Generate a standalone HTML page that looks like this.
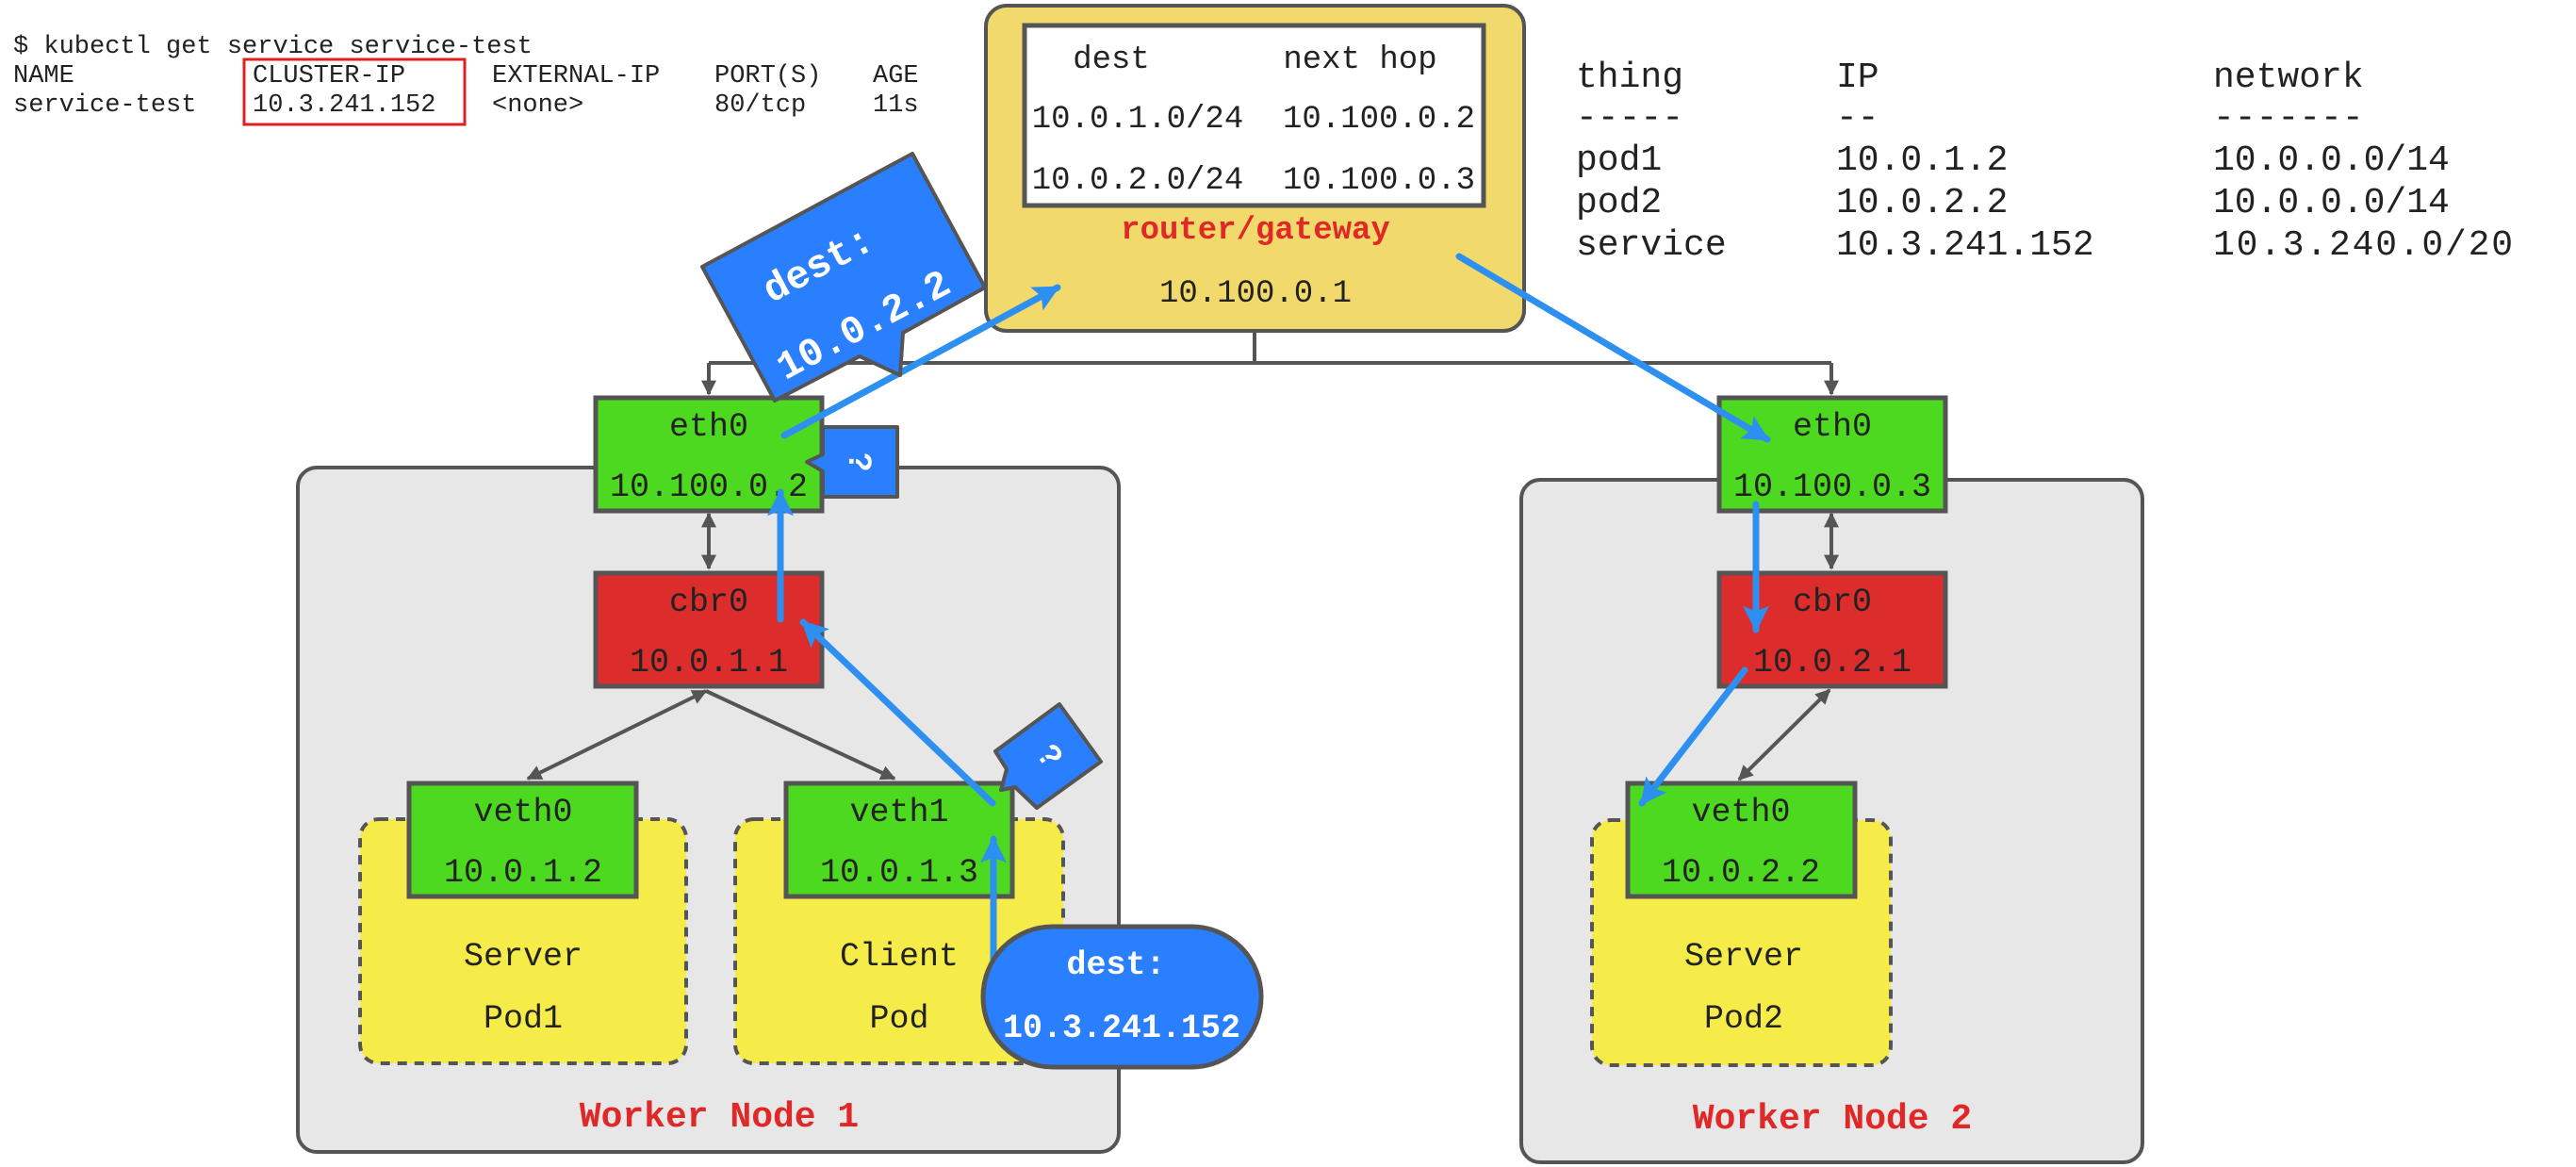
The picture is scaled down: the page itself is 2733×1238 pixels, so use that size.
<!DOCTYPE html>
<html><head><meta charset="utf-8"><style>
html,body{margin:0;padding:0;background:#fff;}
svg{display:block;}
.m{font-family:"Liberation Mono","Noto Sans CJK SC",monospace;}
</style></head><body>
<svg width="2733" height="1238" viewBox="0 0 2733 1238" xmlns="http://www.w3.org/2000/svg">
<defs>
<marker id="gh" viewBox="0 0 10 10" refX="9" refY="5" markerWidth="16" markerHeight="16" orient="auto-start-reverse" markerUnits="userSpaceOnUse"><path d="M0,0 L10,5 L0,10 z" fill="#555"/></marker>
<marker id="bh" viewBox="0 0 10 10" refX="9" refY="5" markerWidth="28" markerHeight="28" orient="auto" markerUnits="userSpaceOnUse"><path d="M0,0 L10,5 L0,10 L2,5 z" fill="#2d8ff0"/></marker>
</defs>

<!-- kubectl text -->
<g class="m" font-size="27" fill="#222">
<text x="14" y="56">$ kubectl get service service-test</text>
<text x="14" y="87">NAME</text><text x="268" y="87">CLUSTER-IP</text><text x="522" y="87">EXTERNAL-IP</text><text x="758" y="87">PORT(S)</text><text x="926" y="87">AGE</text>
<text x="14" y="118">service-test</text><text x="268" y="118">10.3.241.152</text><text x="522" y="118">&lt;none&gt;</text><text x="758" y="118">80/tcp</text><text x="926" y="118">11s</text>
</g>
<rect x="259" y="63" width="234" height="69" fill="none" stroke="#e02020" stroke-width="3"/>

<!-- right table -->
<g class="m" font-size="38" fill="#222">
<text x="1672" y="92">thing</text><text x="1948" y="92">IP</text><text x="2348" y="92">network</text>
<text x="1672" y="135">-----</text><text x="1948" y="135">--</text><text x="2348" y="135">-------</text>
<text x="1672" y="180">pod1</text><text x="1948" y="180">10.0.1.2</text><text x="2348" y="180">10.0.0.0/14</text>
<text x="1672" y="225">pod2</text><text x="1948" y="225">10.0.2.2</text><text x="2348" y="225">10.0.0.0/14</text>
<text x="1672" y="270">service</text><text x="1948" y="270">10.3.241.152</text><text x="2348" y="270" textLength="318" lengthAdjust="spacing">10.3.240.0/20</text>
</g>

<!-- worker nodes -->
<rect x="316" y="496" width="871" height="726" rx="20" fill="#e7e7e7" stroke="#555" stroke-width="4"/>
<rect x="1614" y="509" width="659" height="724" rx="20" fill="#e7e7e7" stroke="#555" stroke-width="4"/>

<!-- router -->
<rect x="1046" y="6" width="571" height="345" rx="22" fill="#f2d96b" stroke="#555" stroke-width="4"/>
<rect x="1087" y="27" width="487" height="191" fill="#fff" stroke="#555" stroke-width="5"/>
<g class="m" font-size="34" fill="#222" text-anchor="middle">
<text x="1179" y="72">dest</text><text x="1443" y="72">next hop</text>
<text x="1207" y="135">10.0.1.0/24</text><text x="1463" y="135">10.100.0.2</text>
<text x="1207" y="200">10.0.2.0/24</text><text x="1463" y="200">10.100.0.3</text>
<text x="1332" y="253" fill="#e02828" font-weight="bold">router/gateway</text>
<text x="1332" y="320">10.100.0.1</text>
</g>

<!-- gray connectors top -->
<path d="M1331,351 V385 M752,385 H1943" stroke="#555" stroke-width="4" fill="none"/>
<path d="M752,385 V418" stroke="#555" stroke-width="4" fill="none" marker-end="url(#gh)"/>
<path d="M1943,385 V418" stroke="#555" stroke-width="4" fill="none" marker-end="url(#gh)"/>

<!-- pods -->
<rect x="382" y="869" width="346" height="259" rx="20" fill="#f5ec4a" stroke="#555" stroke-width="4" stroke-dasharray="10,8"/>
<rect x="780" y="869" width="348" height="259" rx="20" fill="#f5ec4a" stroke="#555" stroke-width="4" stroke-dasharray="10,8"/>
<rect x="1689" y="870" width="317" height="260" rx="20" fill="#f5ec4a" stroke="#555" stroke-width="4" stroke-dasharray="10,8"/>

<!-- gray arrows inside nodes -->
<g stroke="#555" stroke-width="4" fill="none">
<path d="M752,545 V603" marker-end="url(#gh)" marker-start="url(#gh)"/>
<path d="M1943,545 V603" marker-end="url(#gh)" marker-start="url(#gh)"/>
<path d="M749,733 L560,826" marker-end="url(#gh)" marker-start="url(#gh)"/>
<path d="M749,733 L949,826" marker-end="url(#gh)"/>
<path d="M1941,732 L1845,827" marker-end="url(#gh)" marker-start="url(#gh)"/>
</g>

<!-- boxes -->
<g stroke="#555" stroke-width="5">
<rect x="632" y="422" width="240" height="120" fill="#4cd920"/>
<rect x="632" y="608" width="240" height="120" fill="#dd2c2c"/>
<rect x="434" y="831" width="241" height="120" fill="#4cd920"/>
<rect x="834" y="831" width="240" height="120" fill="#4cd920"/>
<rect x="1824" y="422" width="240" height="120" fill="#4cd920"/>
<rect x="1824" y="608" width="240" height="120" fill="#dd2c2c"/>
<rect x="1727" y="831" width="241" height="120" fill="#4cd920"/>
</g>
<g class="m" font-size="35" fill="#222" text-anchor="middle">
<text x="752" y="462">eth0</text><text x="752" y="526">10.100.0.2</text>
<text x="752" y="648">cbr0</text><text x="752" y="712">10.0.1.1</text>
<text x="555" y="871">veth0</text><text x="555" y="935">10.0.1.2</text>
<text x="954" y="871">veth1</text><text x="954" y="935">10.0.1.3</text>
<text x="1944" y="462">eth0</text><text x="1944" y="526">10.100.0.3</text>
<text x="1944" y="648">cbr0</text><text x="1944" y="712">10.0.2.1</text>
<text x="1847" y="871">veth0</text><text x="1847" y="935">10.0.2.2</text>
<text x="555" y="1024">Server</text><text x="555" y="1090">Pod1</text>
<text x="954" y="1024">Client</text><text x="954" y="1090">Pod</text>
<text x="1850" y="1024">Server</text><text x="1850" y="1090">Pod2</text>
</g>
<g class="m" font-size="38" fill="#e02828" text-anchor="middle" font-weight="bold">
<text x="763" y="1195">Worker Node 1</text>
<text x="1944" y="1197">Worker Node 2</text>
</g>

<!-- blue arrows -->
<g stroke="#2d8ff0" stroke-width="7" fill="none" stroke-linecap="round">
<path d="M1054,1060 V890" marker-end="url(#bh)"/>
<path d="M1053,852 L852,660" marker-end="url(#bh)"/>
<path d="M828,657 V522" marker-end="url(#bh)"/>
<path d="M832,462 L1122,305" marker-end="url(#bh)"/>
<path d="M1548,272 L1875,466" marker-end="url(#bh)"/>
<path d="M1863,535 V668" marker-end="url(#bh)"/>
<path d="M1851,711 L1742,852" marker-end="url(#bh)"/>
</g>

<!-- callouts -->
<polygon points="745,283 968,163 1045,305 958,353 955,398 912,378 822,425" fill="#2a7fff" stroke="#555" stroke-width="4" stroke-linejoin="round"/>
<g class="m" font-weight="bold" font-size="42" fill="#fff" text-anchor="middle">
<text transform="translate(874,292) rotate(-28)">dest:</text>
<text transform="translate(922,356) rotate(-28)">10.0.2.2</text>
</g>
<polygon points="873,453 952,453 952,527 873,527 873,500 856,490 873,482" fill="#2a7fff" stroke="#555" stroke-width="4" stroke-linejoin="round"/>
<text transform="translate(910,490) rotate(90)" font-family="Liberation Sans, sans-serif" font-weight="bold" font-size="34" fill="#fff" text-anchor="middle" dominant-baseline="middle">?</text>
<polygon points="1056,797 1124,747 1168,808 1100,857 1077,835 1062,838 1068,816" fill="#2a7fff" stroke="#555" stroke-width="4" stroke-linejoin="round"/>
<text transform="translate(1112,803) rotate(54)" font-family="Liberation Sans, sans-serif" font-weight="bold" font-size="34" fill="#fff" text-anchor="middle" dominant-baseline="middle">?</text>
<rect x="1043" y="983" width="295" height="149" rx="74" fill="#2a7fff" stroke="#555" stroke-width="5"/>
<g class="m" font-size="35" font-weight="bold" fill="#fff" text-anchor="middle">
<text x="1184" y="1033">dest:</text>
<text x="1190" y="1100">10.3.241.152</text>
</g>
</svg>
</body></html>
